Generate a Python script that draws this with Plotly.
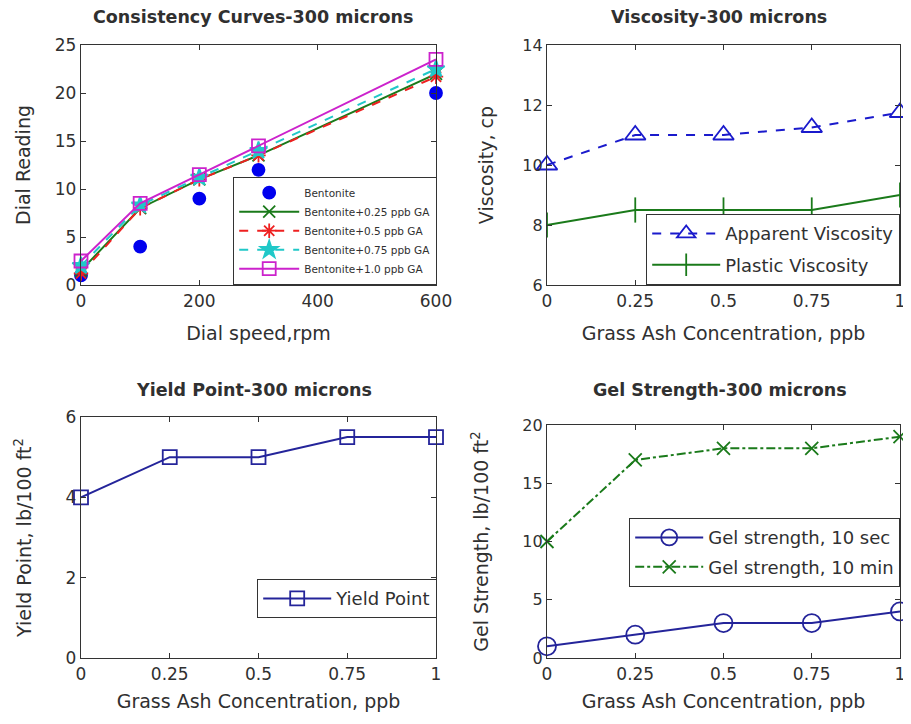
import plotly.graph_objects as go

# ---------------- data ----------------
speed_rpm = [0, 100, 200, 300, 600]
bentonite = [1, 4, 9, 12, 20]
bent_025 = [1.5, 8, 11, 13.5, 22]
bent_05 = [1.2, 8, 11, 13.5, 21.7]
bent_075 = [2, 8.3, 11.2, 14, 22.5]
bent_10 = [2.5, 8.5, 11.5, 14.5, 23.5]

ga_conc = [0, 0.25, 0.5, 0.75, 1]
apparent_visc = [10, 11, 11, 11.25, 11.75]
plastic_visc = [8, 8.5, 8.5, 8.5, 9]
yield_point = [4, 5, 5, 5.5, 5.5]
gel_10sec = [1, 2, 3, 3, 4]
gel_10min = [10, 17, 18, 18, 19]

conc_ticks = [0, 0.25, 0.5, 0.75, 1]
conc_ticktext = ["0", "0.25", "0.5", "0.75", "1"]

# ---------------- style ----------------
FONT = "DejaVu Sans"
TXT = "#303030"
AX = "#333333"
BLUE = "#1a1acc"
NAVY = "#24249a"
GREEN = "#1a7a1a"
RED = "#ee2020"
CYAN = "#20c8c8"
MAG = "#cc22cc"

fig = go.Figure()

def add(x, y, name, color, dash, symbol, xa, ya, legend, size=10, mode="lines+markers", width=2):
    fig.add_trace(go.Scatter(
        x=x, y=y, name=name, mode=mode, xaxis=xa, yaxis=ya, legend=legend,
        legendgroup=name,
        line=dict(color=color, dash=dash, width=width),
        marker=dict(symbol=symbol, size=size, color=color,
                    line=dict(color=color, width=1.8)),
        cliponaxis=False))

# panel 1
add(speed_rpm, bentonite, "Bentonite", "#0000ee", "solid", "circle", "x", "y", "legend", size=12, mode="markers")
add(speed_rpm, bent_025, "Bentonite+0.25 ppb GA", GREEN, "solid", "x-thin-open", "x", "y", "legend", size=12)
add(speed_rpm, bent_05, "Bentonite+0.5 ppb GA", RED, "dash", "asterisk-open", "x", "y", "legend", size=12)
add(speed_rpm, bent_075, "Bentonite+0.75 ppb GA", CYAN, "dash", "star", "x", "y", "legend", size=13)
add(speed_rpm, bent_10, "Bentonite+1.0 ppb GA", MAG, "solid", "square-open", "x", "y", "legend", size=13)

# panel 2
add(ga_conc, apparent_visc, "Apparent Viscosity", BLUE, "dash", "triangle-up-open", "x2", "y2", "legend2", size=18)
add(ga_conc, plastic_visc, "Plastic Viscosity", GREEN, "solid", "line-ns-open", "x2", "y2", "legend2", size=18)

# panel 3
add(ga_conc, yield_point, "Yield Point", NAVY, "solid", "square-open", "x3", "y3", "legend3", size=14)

# panel 4
add(ga_conc, gel_10sec, "Gel strength, 10 sec", NAVY, "solid", "circle-open", "x4", "y4", "legend4", size=18)
add(ga_conc, gel_10min, "Gel strength, 10 min", GREEN, "dashdot", "x-thin-open", "x4", "y4", "legend4", size=13)

# the page body adds an 8px margin, so the figure is 8px smaller and
# reference pixel positions are shifted by 8
OFF = 8
W, H = 911 - OFF, 724 - 2 * OFF
def px(a):
    return (a - OFF) / W
def py(b):
    return 1 - (b - OFF) / H
def dx(a, b):
    return [px(a), px(b)]
def dy(top, bottom):
    return [py(bottom), py(top)]

common_axis = dict(showline=True, linecolor=AX, linewidth=1.3, mirror="ticks",
                   ticks="inside", ticklen=5, tickcolor=AX, showgrid=False, zeroline=False,
                   automargin=False,
                   tickfont=dict(family=FONT, size=17, color=TXT),
                   title_font=dict(family=FONT, size=19, color=TXT))

xconc = dict(common_axis, range=[0, 1], tickvals=conc_ticks, ticktext=conc_ticktext,
             title_text="Grass Ash Concentration, ppb", title_standoff=12)

legend_common = dict(bgcolor="white", bordercolor=AX, borderwidth=1.2,
                     xanchor="right", yanchor="bottom", xref="paper", yref="paper",
                     font=dict(family=FONT, size=18, color=TXT), itemwidth=68)

fig.update_layout(
    width=W, height=H, paper_bgcolor="white", plot_bgcolor="white",
    margin=dict(l=0, r=0, t=0, b=0),
    font=dict(family=FONT, color=TXT),
    xaxis=dict(common_axis, domain=dx(81, 436), anchor="y", range=[0, 600],
               tickvals=[0, 200, 400, 600], title_text="Dial speed,rpm", title_standoff=17),
    yaxis=dict(common_axis, domain=dy(45, 285), anchor="x", range=[0, 25],
               tickvals=[0, 5, 10, 15, 20, 25], title_text="Dial Reading", title_standoff=19),
    xaxis2=dict(xconc, domain=dx(547, 900), anchor="y2", title_standoff=17),
    yaxis2=dict(common_axis, domain=dy(45, 285), anchor="x2", range=[6, 14],
                tickvals=[6, 8, 10, 12, 14], title_text="Viscosity, cp", title_standoff=23,
                tickfont=dict(family=FONT, size=16, color=TXT)),
    xaxis3=dict(xconc, domain=dx(81, 436), anchor="y3"),
    yaxis3=dict(common_axis, domain=dy(417, 658), anchor="x3", range=[0, 6],
                tickvals=[0, 2, 4, 6], title_text="Yield Point, lb/100 ft<sup>2</sup>", title_standoff=28),
    xaxis4=dict(xconc, domain=dx(547, 900), anchor="y4"),
    yaxis4=dict(common_axis, domain=dy(425, 658), anchor="x4", range=[0, 20],
                tickvals=[0, 5, 10, 15, 20], title_text="Gel Strength, lb/100 ft<sup>2</sup>", title_standoff=28,
                tickfont=dict(family=FONT, size=16, color=TXT)),
    legend=dict(legend_common, x=px(437), y=py(285), tracegroupgap=0, itemwidth=60,
                font=dict(family=FONT, size=10.5, color=TXT)),
    legend2=dict(legend_common, x=px(900), y=py(285), tracegroupgap=5),
    legend3=dict(legend_common, x=px(437), y=py(618), tracegroupgap=0),
    legend4=dict(legend_common, x=px(900), y=py(587), tracegroupgap=3),
    showlegend=True,
)

titles = [("Consistency Curves-300 microns", 253, 17),
          ("Viscosity-300 microns", 719, 17),
          ("Yield Point-300 microns", 254, 390),
          ("Gel Strength-300 microns", 720, 390)]
for text, cx, cy in titles:
    fig.add_annotation(text="<b>%s</b>" % text, x=px(cx), y=py(cy), xref="paper", yref="paper",
                       showarrow=False, xanchor="center", yanchor="middle",
                       font=dict(family=FONT, size=17.5, color=TXT))

fig.write_html("out.html")
